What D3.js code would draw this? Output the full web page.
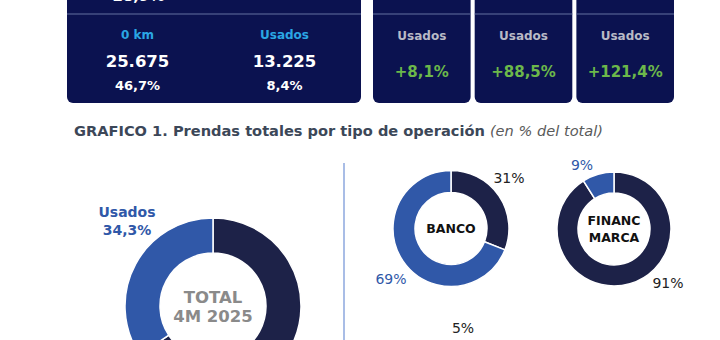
<!DOCTYPE html>
<html><head><meta charset="utf-8">
<script src="https://cdn.jsdelivr.net/npm/d3@7"></script>
<style>html,body{margin:0;padding:0;background:#fff;}svg{display:block;}</style>
</head><body>
<svg id="c" width="720" height="340"></svg>
<script>
// ---- data ----
const kpiCategories = ["0 km", "Usados"];
const kpiValues = ["25.675", "13.225"];
const kpiShares = ["46,7%", "8,4%"];
const kpiTopCut = "28,9%";
const growthLabels = ["Usados", "Usados", "Usados"];
const growthValues = ["+8,1%", "+88,5%", "+121,4%"];
const chartTitle = "GRAFICO 1. Prendas totales por tipo de operación";
const chartSubtitle = "(en % del total)";
const totalSegments = ["0 km", "Usados"];
const totalValues = [65.7, 34.3];
const totalCenter = ["TOTAL", "4M 2025"];
const bancoSegments = ["0 km", "Usados"];
const bancoValues = [31, 69];
const financSegments = ["0 km", "Usados"];
const financValues = [91, 9];
const extraLabel = "5%";

const svg = d3.select("#c");
const F = "'DejaVu Sans', Verdana, sans-serif";
const NAVY_BOX = "#0b1250";
const DARK = "#1d2248";
const BLUE = "#3058a8";

// ---- top KPI boxes ----
svg.append("rect").attr("x", 67).attr("y", -20).attr("width", 294).attr("height", 123).attr("rx", 6).attr("fill", NAVY_BOX);
const gx = d3.scaleBand().domain(d3.range(3)).range([373, 674]).paddingInner(0.04);
gx.domain().forEach(i => {
  svg.append("rect").attr("x", gx(i)).attr("y", -20).attr("width", gx.bandwidth()).attr("height", 123).attr("rx", 6).attr("fill", NAVY_BOX);
});
svg.append("line").attr("x1", 67).attr("x2", 361).attr("y1", 14).attr("y2", 14).attr("stroke", "#6470a0").attr("stroke-width", 1.2);
gx.domain().forEach(i => {
  svg.append("line").attr("x1", gx(i)).attr("x2", gx(i) + gx.bandwidth()).attr("y1", 14).attr("y2", 14).attr("stroke", "#6470a0").attr("stroke-width", 1.2);
});
const kx = d3.scaleBand().domain(kpiCategories).range([67, 361]);
svg.append("text").attr("x", kx("0 km") + kx.bandwidth() / 2 - 2).attr("y", 0.5).attr("text-anchor", "middle")
  .attr("font-family", F).attr("font-weight", "bold").attr("font-size", 15).attr("fill", "#fff").text(kpiTopCut);
kpiCategories.forEach((c, i) => {
  const cx = kx(c) + kx.bandwidth() / 2 - 3;
  svg.append("text").attr("x", cx).attr("y", 39).attr("text-anchor", "middle").attr("font-family", F)
    .attr("font-weight", "bold").attr("font-size", 12).attr("fill", "#2aa6e4").text(c);
  svg.append("text").attr("x", cx).attr("y", 67).attr("text-anchor", "middle").attr("font-family", F)
    .attr("font-weight", "bold").attr("font-size", 16.5).attr("fill", "#fff").text(kpiValues[i]);
  svg.append("text").attr("x", cx).attr("y", 90).attr("text-anchor", "middle").attr("font-family", F)
    .attr("font-weight", "bold").attr("font-size", 13).attr("fill", "#fff").text(kpiShares[i]);
});
growthLabels.forEach((l, i) => {
  const cx = gx(i) + gx.bandwidth() / 2;
  svg.append("text").attr("x", cx).attr("y", 40).attr("text-anchor", "middle").attr("font-family", F)
    .attr("font-weight", "bold").attr("font-size", 12).attr("fill", "#b9bac6").text(l);
  svg.append("text").attr("x", cx).attr("y", 77).attr("text-anchor", "middle").attr("font-family", F)
    .attr("font-weight", "bold").attr("font-size", 15).attr("fill", "#6cb84a").text(growthValues[i]);
});

// ---- title ----
const t = svg.append("text").attr("x", 74).attr("y", 136).attr("font-family", F).attr("font-size", 14.6);
t.append("tspan").attr("font-weight", "bold").attr("fill", "#3c4758").text(chartTitle + " ");
t.append("tspan").attr("font-style", "italic").attr("fill", "#5a5a5a").attr("font-size", 14.6).text(chartSubtitle);

// divider
svg.append("line").attr("x1", 344).attr("x2", 344).attr("y1", 163).attr("y2", 340).attr("stroke", "#a9bde6").attr("stroke-width", 2);

// ---- donuts ----
function donut(cfg) {
  const pie = d3.pie().sort(null).value(d => d.v);
  const arcs = pie(cfg.segments.map((s, i) => ({ s, v: cfg.values[i], color: cfg.colors[i] })));
  const arc = d3.arc().innerRadius(cfg.ri).outerRadius(cfg.ro);
  const g = svg.append("g").attr("transform", `translate(${cfg.cx},${cfg.cy})`);
  g.selectAll("path").data(arcs).join("path").attr("d", arc).attr("fill", d => d.data.color)
    .attr("stroke", "#fff").attr("stroke-width", 1.5);
  return { g, arcs };
}

// total
const tot = donut({ segments: totalSegments, values: totalValues, colors: [DARK, BLUE], cx: 213, cy: 306, ri: 53, ro: 88 });
tot.g.append("text").attr("x", 0).attr("y", -3).attr("text-anchor", "middle").attr("font-family", F)
  .attr("font-weight", "bold").attr("font-size", 16.5).attr("fill", "#8a8a8a").text(totalCenter[0]);
tot.g.append("text").attr("x", 0).attr("y", 16).attr("text-anchor", "middle").attr("font-family", F)
  .attr("font-weight", "bold").attr("font-size", 16.5).attr("fill", "#8a8a8a").text(totalCenter[1]);
const usIdx = totalSegments.indexOf("Usados");
tot.g.append("text").attr("x", -86).attr("y", -89).attr("text-anchor", "middle").attr("font-family", F)
  .attr("font-weight", "bold").attr("font-size", 14).attr("fill", BLUE).text(totalSegments[usIdx]);
tot.g.append("text").attr("x", -86).attr("y", -71).attr("text-anchor", "middle").attr("font-family", F)
  .attr("font-weight", "bold").attr("font-size", 14).attr("fill", BLUE).text(String(totalValues[usIdx]).replace(".", ",") + "%");

// banco
const bc = donut({ segments: bancoSegments, values: bancoValues, colors: [DARK, BLUE], cx: 451, cy: 228.5, ri: 36, ro: 58 });
bc.g.append("text").attr("x", 0).attr("y", 4.5).attr("text-anchor", "middle").attr("font-family", F)
  .attr("font-weight", "bold").attr("font-size", 12.5).attr("fill", "#111").text("BANCO");
const bLab = [{ dx: 58, dy: -46, c: "#222" }, { dx: -60, dy: 55, c: BLUE }];
bancoValues.forEach((v, i) => {
  bc.g.append("text").attr("x", bLab[i].dx).attr("y", bLab[i].dy).attr("text-anchor", "middle").attr("font-family", F)
    .attr("font-size", 14).attr("fill", bLab[i].c).text(v + "%");
});

// financ marca
const fm = donut({ segments: financSegments, values: financValues, colors: [DARK, BLUE], cx: 614, cy: 229, ri: 36, ro: 57 });
fm.g.append("text").attr("x", 0).attr("y", -4).attr("text-anchor", "middle").attr("font-family", F)
  .attr("font-weight", "bold").attr("font-size", 12.5).attr("fill", "#111").text("FINANC");
fm.g.append("text").attr("x", 0).attr("y", 13).attr("text-anchor", "middle").attr("font-family", F)
  .attr("font-weight", "bold").attr("font-size", 12.5).attr("fill", "#111").text("MARCA");
const fLab = [{ dx: 54, dy: 59, c: "#222" }, { dx: -32, dy: -59, c: BLUE }];
financValues.forEach((v, i) => {
  fm.g.append("text").attr("x", fLab[i].dx).attr("y", fLab[i].dy).attr("text-anchor", "middle").attr("font-family", F)
    .attr("font-size", 14).attr("fill", fLab[i].c).text(v + "%");
});

svg.append("text").attr("x", 463).attr("y", 333).attr("text-anchor", "middle").attr("font-family", F)
  .attr("font-size", 14).attr("fill", "#222").text(extraLabel);
</script>
</body></html>
